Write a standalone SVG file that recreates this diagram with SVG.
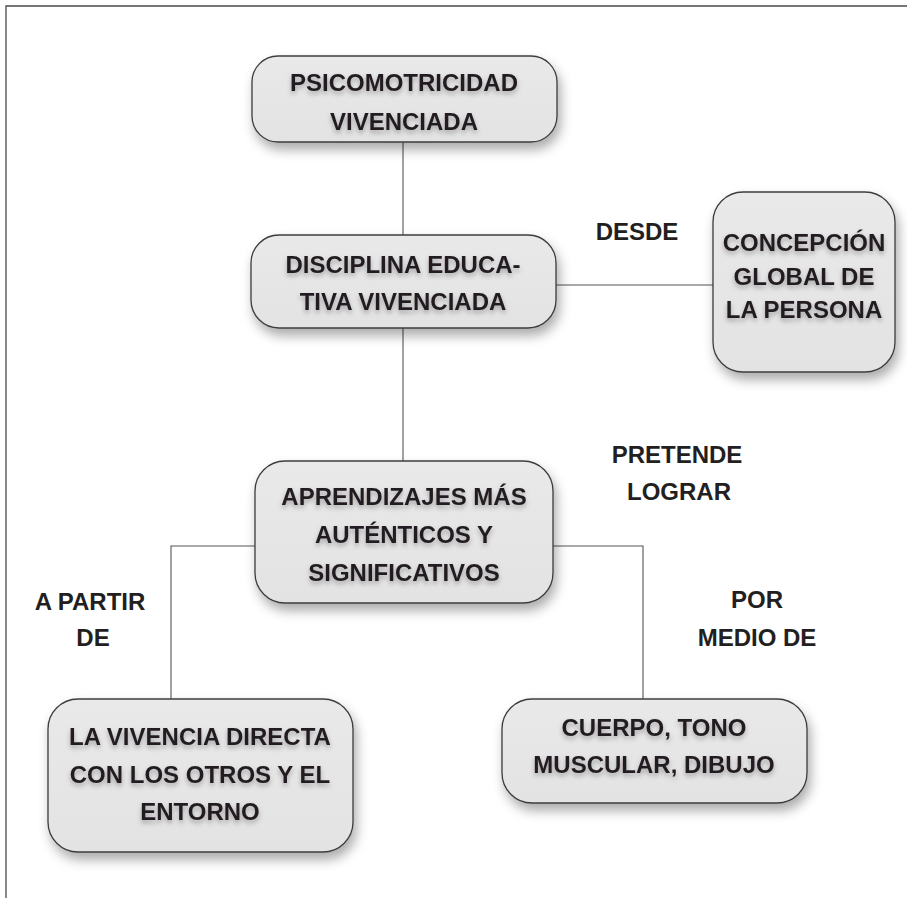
<svg xmlns="http://www.w3.org/2000/svg" width="907" height="898" viewBox="0 0 907 898">
<defs>
<filter id="boxShadow" x="-10%" y="-10%" width="125%" height="140%">
<feDropShadow dx="3" dy="7" stdDeviation="6" flood-color="#000" flood-opacity="0.33"/>
</filter>
<filter id="textShadow" x="-5%" y="-20%" width="110%" height="160%">
<feDropShadow dx="0" dy="3" stdDeviation="2.5" flood-color="#000" flood-opacity="0.3"/>
</filter>
<linearGradient id="boxFill" x1="0" y1="0" x2="0" y2="1">
<stop offset="0" stop-color="#e9e9e9"/>
<stop offset="1" stop-color="#e3e3e3"/>
</linearGradient>
</defs>
<style>
.frame { fill: none; stroke: #4a4a4a; stroke-width: 1.3; }
.box { fill: url(#boxFill); stroke: #3c3c3c; stroke-width: 1.3; filter: url(#boxShadow); }
.conn { fill: none; stroke: #555; stroke-width: 1.1; }
.t { font-family: "Liberation Sans", Arial, sans-serif; font-weight: bold; font-size: 24px; fill: #231f20; text-anchor: middle; }
.ts { filter: url(#textShadow); }
</style>
<rect width="907" height="898" fill="#fff"/>
<path class="frame" d="M6,898 V6 H907"/>

<g id="connectors">
<line class="conn" x1="403" y1="142" x2="403" y2="235"/>
<line class="conn" x1="556" y1="285" x2="713" y2="285"/>
<line class="conn" x1="403" y1="328" x2="403" y2="461"/>
<polyline class="conn" points="255,546 171,546 171,699"/>
<polyline class="conn" points="553,546 643,546 643,699"/>
</g>

<g id="labels">
<text class="t" x="637" y="240">DESDE</text>
<text class="t" x="677" y="463">PRETENDE</text>
<text class="t" x="679" y="500">LOGRAR</text>
<text class="t" x="90" y="610">A PARTIR</text>
<text class="t" x="93" y="646">DE</text>
<text class="t" x="757" y="608">POR</text>
<text class="t" x="757" y="646">MEDIO DE</text>
</g>

<g id="node-psicomotricidad">
<rect class="box" x="252" y="56" width="305" height="86" rx="26"/>
<g class="ts">
<text class="t" x="404" y="91">PSICOMOTRICIDAD</text>
<text class="t" x="404" y="130">VIVENCIADA</text>
</g>
</g>

<g id="node-disciplina">
<rect class="box" x="251" y="235" width="305" height="93" rx="28"/>
<g class="ts">
<text class="t" x="403" y="273">DISCIPLINA EDUCA-</text>
<text class="t" x="403" y="310">TIVA VIVENCIADA</text>
</g>
</g>

<g id="node-concepcion">
<rect class="box" x="713" y="192" width="182" height="180" rx="30"/>
<g class="ts">
<text class="t" x="804" y="251">CONCEPCIÓN</text>
<text class="t" x="804" y="285">GLOBAL DE</text>
<text class="t" x="804" y="318">LA PERSONA</text>
</g>
</g>

<g id="node-aprendizajes">
<rect class="box" x="255" y="461" width="298" height="142" rx="30"/>
<g class="ts">
<text class="t" x="404" y="505">APRENDIZAJES MÁS</text>
<text class="t" x="404" y="543">AUTÉNTICOS Y</text>
<text class="t" x="404" y="581">SIGNIFICATIVOS</text>
</g>
</g>

<g id="node-vivencia">
<rect class="box" x="48" y="699" width="305" height="153" rx="30"/>
<g class="ts">
<text class="t" x="200" y="745">LA VIVENCIA DIRECTA</text>
<text class="t" x="200" y="783">CON LOS OTROS Y EL</text>
<text class="t" x="200" y="820">ENTORNO</text>
</g>
</g>

<g id="node-cuerpo">
<rect class="box" x="502" y="699" width="305" height="104" rx="30"/>
<g class="ts">
<text class="t" x="654" y="736">CUERPO, TONO</text>
<text class="t" x="654" y="773">MUSCULAR, DIBUJO</text>
</g>
</g>
</svg>
